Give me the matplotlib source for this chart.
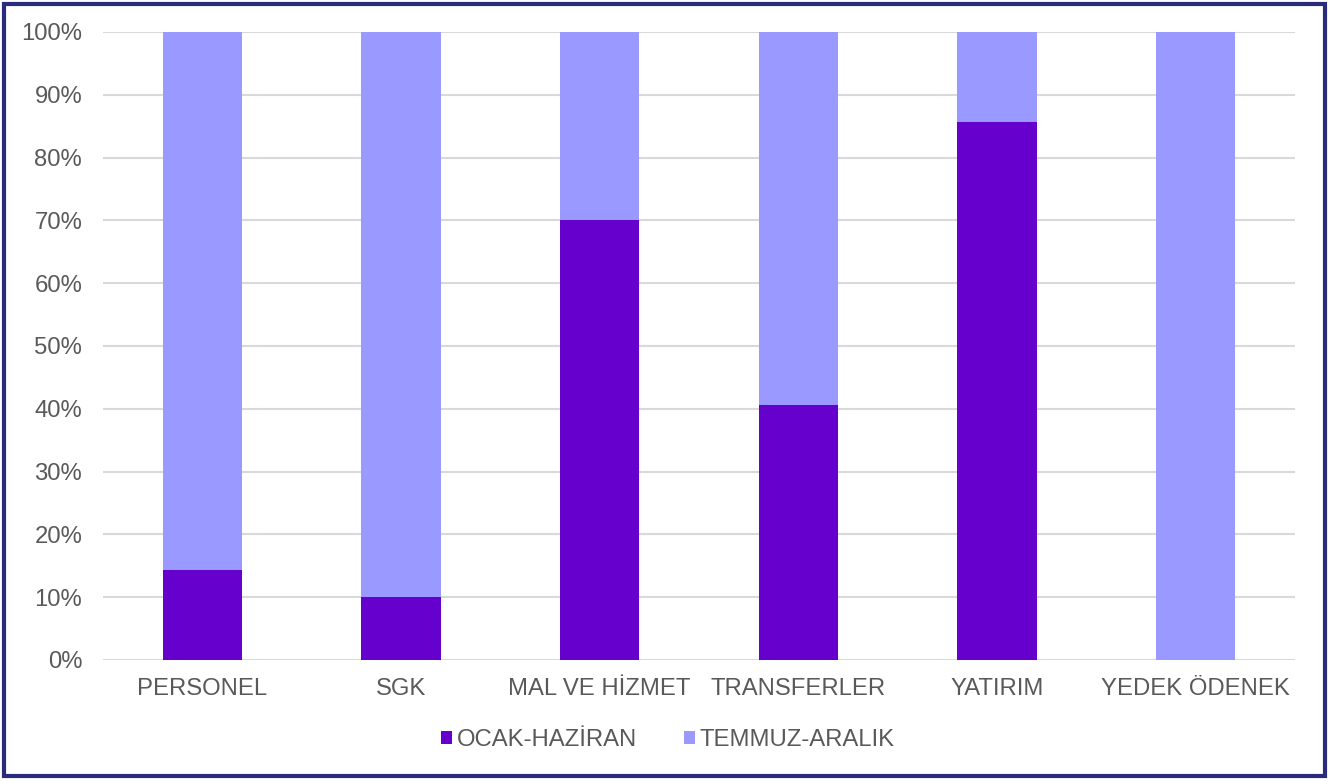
import matplotlib.pyplot as plt
from matplotlib.patches import Rectangle
from matplotlib.ticker import PercentFormatter
import numpy as np

plt.rcParams['font.family'] = ['Liberation Sans', 'DejaVu Sans']

categories = ["PERSONEL", "SGK", "MAL VE HİZMET", "TRANSFERLER", "YATIRIM", "YEDEK ÖDENEK"]
ocak_haziran = [14.3, 10.0, 70.1, 40.6, 85.7, 0.0]
temmuz_aralik = [100 - v for v in ocak_haziran]

dark = "#6600CC"
light = "#9999FF"
text_col = "#595959"

fig = plt.figure(figsize=(13.41, 7.81), dpi=100)
ax = fig.add_axes([103 / 1341, 1 - 660 / 781, (1295 - 103) / 1341, (660 - 32) / 781])

x = np.arange(len(categories))
ax.bar(x, ocak_haziran, width=0.4, color=dark, label="OCAK-HAZİRAN", zorder=3)
ax.bar(x, temmuz_aralik, width=0.4, bottom=ocak_haziran, color=light,
       label="TEMMUZ-ARALIK", zorder=3)

ax.set_xlim(-0.5, len(categories) - 0.5)
ax.set_ylim(0, 100)
ax.set_yticks(np.arange(0, 101, 10))
ax.yaxis.set_major_formatter(PercentFormatter(decimals=0))
ax.set_xticks(x)
ax.set_xticklabels(categories)
ax.tick_params(length=0, labelsize=17.2, colors=text_col)
ax.tick_params(axis='x', pad=13)
ax.tick_params(axis='y', pad=15)
ax.grid(axis='y', color="#d9d9d9", linewidth=1.5, zorder=0)
for s in ax.spines.values():
    s.set_visible(False)

fig.legend(loc="center", bbox_to_anchor=(668 / 1341, 1 - 740 / 781), ncol=2, frameon=False,
           fontsize=17.2, labelcolor=text_col, handlelength=0.45, handleheight=0.45,
           handletextpad=0.2, columnspacing=2.0)

fig.patches.append(Rectangle((4 / 1341, 1 - 776 / 781), 1321 / 1341, 772 / 781,
                             transform=fig.transFigure, fill=False,
                             edgecolor="#2b2b7b", linewidth=3))

fig.savefig("out.png", dpi=100)
